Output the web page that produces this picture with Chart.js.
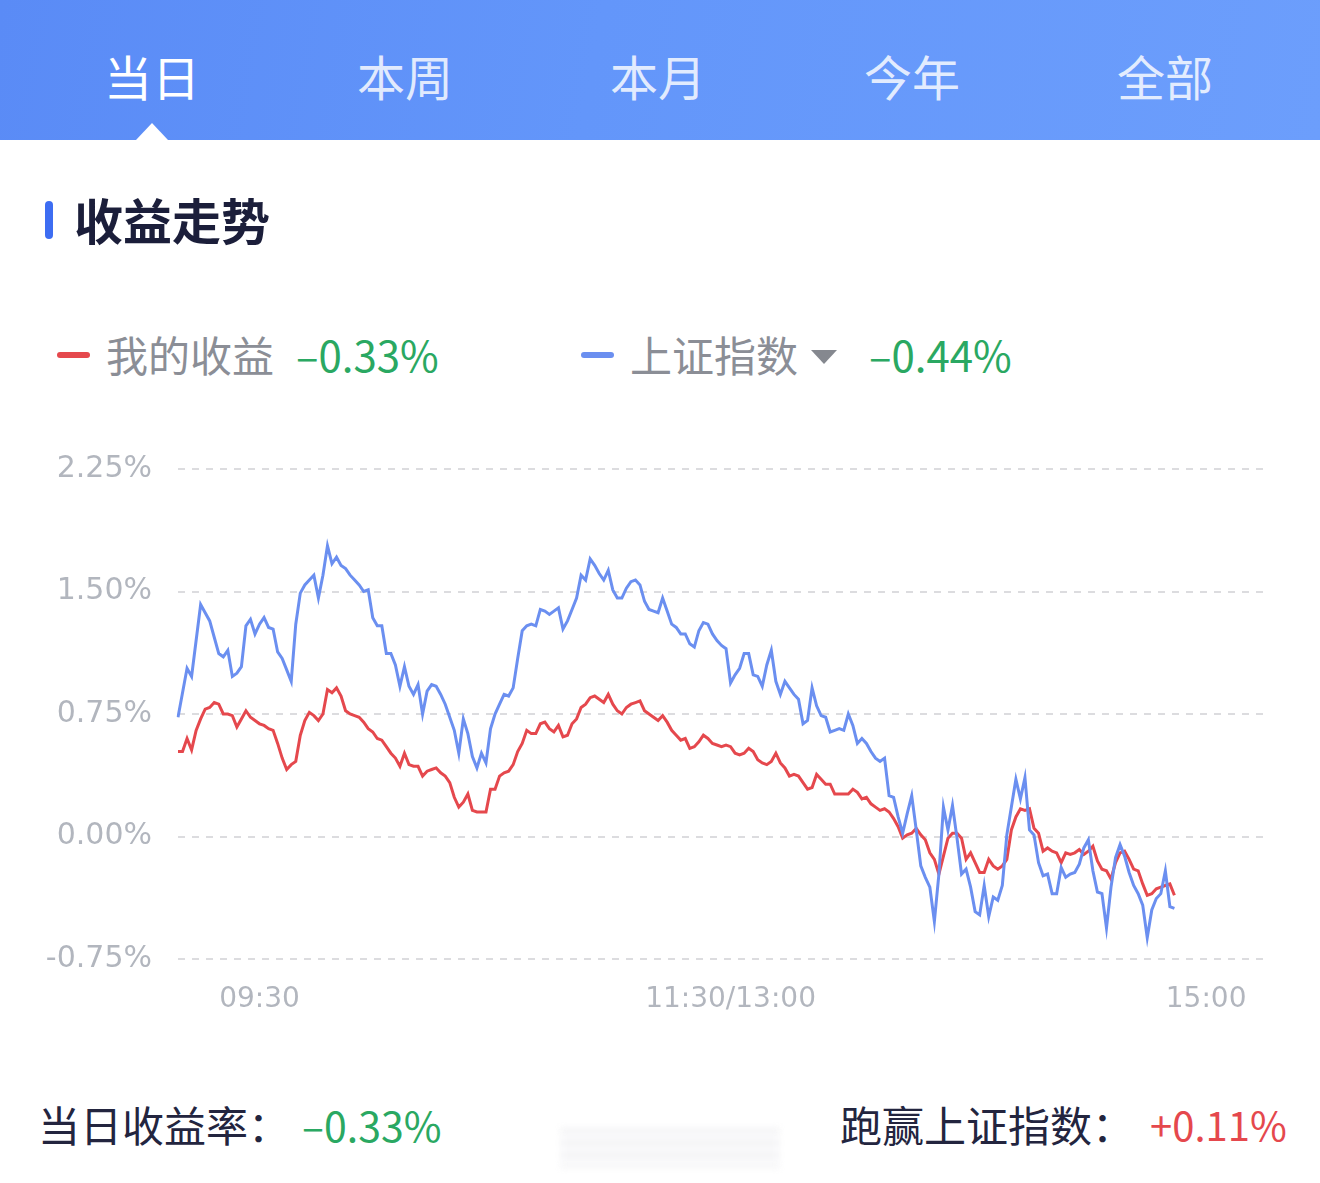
<!DOCTYPE html>
<html>
<head>
<meta charset="utf-8">
<script src="https://cdn.jsdelivr.net/npm/chart.js@4.4.1/dist/chart.umd.min.js"></script>
<style>
  body { margin: 0; background: #fff; }
  #page { position: relative; width: 1320px; height: 1183px; overflow: hidden; background: #fff;
          font-family: "Noto Sans CJK SC", "Noto Sans", sans-serif; }
  #head { position: absolute; left: 0; top: 0; width: 1320px; height: 140px;
          background: linear-gradient(100deg, #5a8bf6 0%, #6396fa 45%, #6c9efc 100%); }
  #head .tab { position: absolute; top: 42px; width: 200px; margin-left: -100px; text-align: center;
               font-size: 48px; line-height: 66px; color: rgba(255,255,255,0.82); }
  #head .tab.on { color: #fff; }
  #arrow { position: absolute; left: 136px; top: 123px; width: 0; height: 0;
           border-left: 16px solid transparent; border-right: 16px solid transparent; border-bottom: 17px solid #fff; }
  #bar { position: absolute; left: 45px; top: 201px; width: 8px; height: 38px; border-radius: 4px; background: #3d6df2; }
  #title { position: absolute; left: 74px; top: 188px; font-size: 49px; line-height: 62px; font-weight: 700; color: #1b1e3a; }
  .lg { position: absolute; top: 326px; font-size: 42px; line-height: 56px; }
  .dash { position: absolute; top: 352px; width: 33px; height: 6px; border-radius: 3px; }
  #chartBox { position: absolute; left: 0; top: 425px; width: 1289px; height: 604px; }
  .bt { position: absolute; top: 1096px; font-size: 42px; line-height: 56px; }
  #smudge { position: absolute; left: 560px; top: 1128px; width: 220px; height: 40px; filter: blur(3px);
            background: repeating-linear-gradient(180deg, #f1f1f3 0 6px, #fbfbfc 6px 12px); opacity: 0.8; }
</style>
</head>
<body>
<div id="page">
  <div id="head">
    <div class="tab on" style="left:152px">当日</div>
    <div class="tab" style="left:405px">本周</div>
    <div class="tab" style="left:658px">本月</div>
    <div class="tab" style="left:912px">今年</div>
    <div class="tab" style="left:1165px">全部</div>
    <div id="arrow"></div>
  </div>

  <div id="bar"></div>
  <div id="title">收益走势</div>

  <div class="dash" style="left:57px;background:#e5484d"></div>
  <div class="lg" style="left:106px;color:#8b8e96">我的收益</div>
  <div class="lg" style="left:296px;color:#2aa862">–0.33%</div>
  <div class="dash" style="left:581px;background:#6b8ff0"></div>
  <div class="lg" style="left:630px;color:#8b8e96">上证指数</div>
  <div style="position:absolute;left:811px;top:350px;width:0;height:0;border-left:13px solid transparent;border-right:13px solid transparent;border-top:14px solid #85888f"></div>
  <div class="lg" style="left:869px;color:#2aa862">–0.44%</div>

  <div id="chartBox"><canvas id="chart"></canvas></div>

  <div class="bt" style="left:38px;color:#23253f">当日收益率：</div>
  <div class="bt" style="left:302px;color:#2aa862;font-size:41px">–0.33%</div>
  <div id="smudge"></div>
  <div class="bt" style="left:840px;color:#23253f">跑赢上证指数：</div>
  <div class="bt" style="left:1150px;color:#e5484d;font-size:40px">+0.11%</div>
</div>

<script>
// one sample every few minutes, index 0 = first point of the day
const tickIndex = [18, 122, 227]
const tickText = ['09:30', '11:30/13:00', '15:00']
const slotCount = 241

// 我的收益 (%)
const myReturn = [
  0.52, 0.52, 0.60, 0.53, 0.65, 0.72, 0.78, 0.79, 0.82, 0.81,
  0.75, 0.75, 0.74, 0.67, 0.72, 0.77, 0.73, 0.71, 0.69, 0.68,
  0.66, 0.65, 0.57, 0.48, 0.41, 0.44, 0.46, 0.62, 0.71, 0.76,
  0.74, 0.71, 0.75, 0.90, 0.88, 0.91, 0.86, 0.77, 0.75, 0.74,
  0.73, 0.70, 0.66, 0.64, 0.60, 0.59, 0.55, 0.51, 0.48, 0.43,
  0.51, 0.44, 0.43, 0.43, 0.37, 0.40, 0.41, 0.42, 0.39, 0.37,
  0.33, 0.24, 0.18, 0.21, 0.26, 0.16, 0.15, 0.15, 0.15, 0.29,
  0.29, 0.37, 0.39, 0.40, 0.44, 0.52, 0.57, 0.65, 0.63, 0.63,
  0.69, 0.70, 0.66, 0.64, 0.68, 0.61, 0.62, 0.69, 0.72, 0.79,
  0.81, 0.85, 0.86, 0.84, 0.82, 0.87, 0.81, 0.77, 0.75, 0.79,
  0.81, 0.82, 0.83, 0.77, 0.75, 0.73, 0.71, 0.74, 0.70, 0.65,
  0.62, 0.59, 0.60, 0.54, 0.55, 0.58, 0.62, 0.60, 0.57, 0.56,
  0.55, 0.56, 0.55, 0.51, 0.50, 0.51, 0.54, 0.52, 0.47, 0.45,
  0.44, 0.46, 0.51, 0.45, 0.42, 0.37, 0.38, 0.37, 0.33, 0.29,
  0.30, 0.38, 0.35, 0.32, 0.32, 0.26, 0.26, 0.26, 0.26, 0.29,
  0.27, 0.23, 0.24, 0.20, 0.18, 0.16, 0.17, 0.15, 0.11, 0.06,
  -0.01, 0.01, 0.02, 0.05, 0.01, -0.02, -0.10, -0.14, -0.23, -0.12,
  -0.01, 0.02, 0.02, -0.01, -0.14, -0.10, -0.16, -0.22, -0.22, -0.14,
  -0.18, -0.20, -0.18, -0.14, 0.04, 0.12, 0.17, 0.16, 0.17, 0.05,
  0.02, -0.09, -0.07, -0.09, -0.10, -0.16, -0.10, -0.11, -0.10, -0.08,
  -0.11, -0.09, -0.06, -0.15, -0.20, -0.21, -0.26, -0.16, -0.10, -0.09,
  -0.14, -0.20, -0.21, -0.29, -0.36, -0.35, -0.32, -0.31, -0.30, -0.29,
  -0.36
]

// 上证指数 (%)
const indexReturn = [
  0.73, 0.88, 1.03, 0.98, 1.20, 1.42, 1.37, 1.32, 1.22, 1.12,
  1.10, 1.14, 0.98, 1.00, 1.04, 1.29, 1.33, 1.24, 1.30, 1.34,
  1.28, 1.27, 1.13, 1.09, 1.02, 0.95, 1.30, 1.49, 1.54, 1.57,
  1.60, 1.46, 1.60, 1.78, 1.67, 1.71, 1.66, 1.64, 1.60, 1.57,
  1.54, 1.50, 1.51, 1.34, 1.29, 1.29, 1.12, 1.12, 1.05, 0.92,
  1.04, 0.92, 0.87, 0.93, 0.75, 0.89, 0.93, 0.92, 0.87, 0.81,
  0.73, 0.65, 0.51, 0.72, 0.63, 0.49, 0.42, 0.51, 0.45, 0.66,
  0.75, 0.81, 0.87, 0.86, 0.91, 1.09, 1.26, 1.29, 1.30, 1.29,
  1.39, 1.38, 1.36, 1.38, 1.40, 1.27, 1.32, 1.39, 1.46, 1.60,
  1.57, 1.70, 1.66, 1.61, 1.57, 1.63, 1.51, 1.46, 1.46, 1.52,
  1.56, 1.57, 1.54, 1.44, 1.39, 1.38, 1.37, 1.46, 1.38, 1.30,
  1.28, 1.24, 1.24, 1.18, 1.16, 1.26, 1.31, 1.30, 1.24, 1.20,
  1.17, 1.15, 0.94, 0.99, 1.03, 1.12, 1.12, 0.99, 0.98, 0.92,
  1.05, 1.14, 0.95, 0.87, 0.95, 0.91, 0.87, 0.84, 0.69, 0.71,
  0.91, 0.80, 0.74, 0.73, 0.64, 0.65, 0.66, 0.65, 0.75, 0.68,
  0.57, 0.60, 0.57, 0.52, 0.48, 0.46, 0.48, 0.25, 0.24, 0.12,
  0.02, 0.14, 0.25, 0.04, -0.18, -0.25, -0.31, -0.52, -0.23, 0.18,
  0.04, 0.19, -0.01, -0.23, -0.20, -0.31, -0.46, -0.48, -0.30, -0.49,
  -0.37, -0.39, -0.30, 0.01, 0.18, 0.35, 0.23, 0.36, 0.04, 0.01,
  -0.16, -0.24, -0.23, -0.35, -0.35, -0.19, -0.25, -0.23, -0.22, -0.17,
  -0.07, -0.02, -0.21, -0.34, -0.35, -0.56, -0.31, -0.13, -0.05, -0.12,
  -0.22, -0.30, -0.35, -0.42, -0.62, -0.45, -0.38, -0.35, -0.21, -0.43,
  -0.44
]

const yMin = -0.75, yMax = 2.25, yStep = 0.75

document.addEventListener("DOMContentLoaded", function() {
  let labels = []
  for (let i = 0; i < slotCount; i++) {
    let k = tickIndex.indexOf(i)
    labels.push(k >= 0 ? tickText[k] : '')
  }

  let ctx = document.getElementById('chart')
  new Chart(ctx, {
    type: 'line',
    data: {
      labels: labels,
      datasets: [
        { label: '上证指数', data: indexReturn, borderColor: '#6b8ff0', borderWidth: 3, pointRadius: 0, tension: 0 },
        { label: '我的收益', data: myReturn, borderColor: '#e5484d', borderWidth: 3, pointRadius: 0, tension: 0 }
      ]
    },
    options: {
      responsive: true,
      maintainAspectRatio: false,
      animation: false,
      layout: { padding: { top: 11, right: 0, bottom: 0, left: 0 } },
      plugins: { legend: { display: false }, tooltip: { enabled: false } },
      scales: {
        x: {
          type: 'category',
          offset: false,
          grid: { display: false, drawTicks: false },
          border: { display: false },
          ticks: {
            autoSkip: false, maxRotation: 0, minRotation: 0, padding: 24,
            color: '#b2b6be', font: { family: 'DejaVu Sans', size: 28 },
            callback: function(v, i) { return labels[i] }
          },
          afterFit: function(scale) { scale.height = 70 }
        },
        y: {
          min: yMin, max: yMax,
          grid: { color: '#dcdcdf', lineWidth: 2, drawTicks: false },
          border: { display: false, dash: [7, 7] },
          ticks: {
            stepSize: yStep, padding: 26,
            color: '#b2b6be', font: { family: 'DejaVu Sans', size: 30 },
            callback: function(v) { return v.toFixed(2) + '%' }
          },
          afterFit: function(scale) { scale.width = 178 }
        }
      }
    }
  })
})
</script>
</body>
</html>
